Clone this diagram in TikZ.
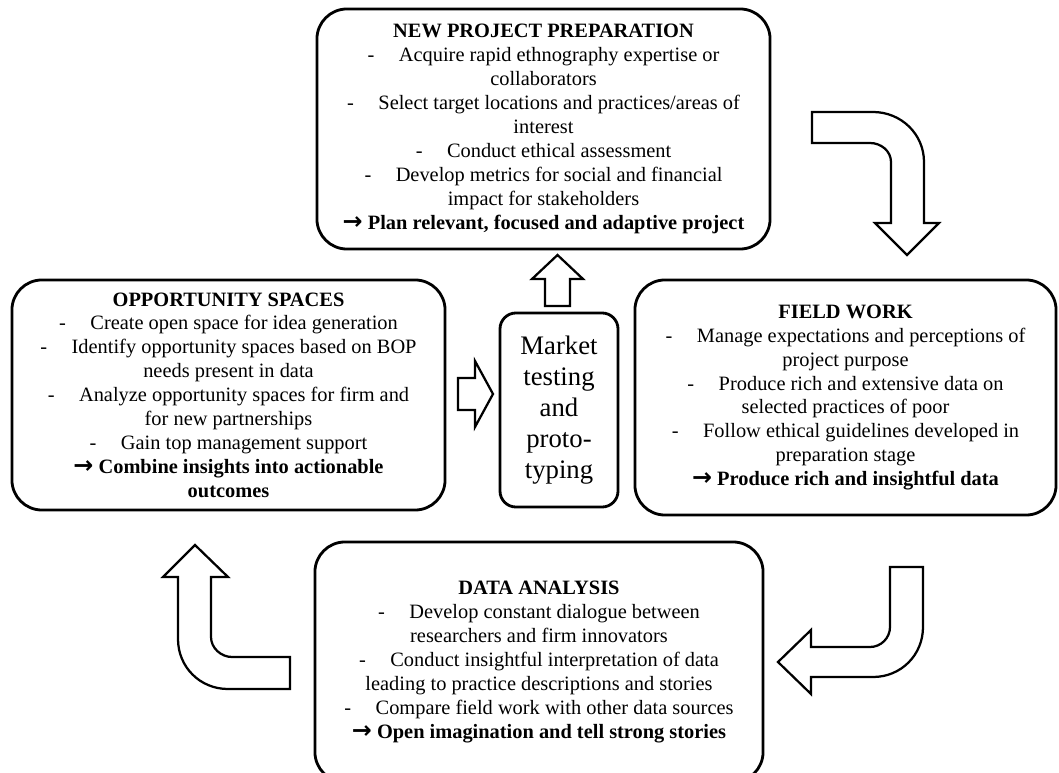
\documentclass[tikz,border=0pt]{standalone}
\usepackage{fontspec}
\setmainfont{Liberation Serif}
\newfontfamily\arrowfont{DejaVu Sans}
\tikzset{
  stage/.style={draw, line width=2pt, rounded corners=0.75cm, align=center, inner sep=0pt,
    font=\fontsize{14.5}{17}\selectfont},
  testbox/.style={draw, line width=2pt, rounded corners=0.4cm, align=center, inner sep=0pt,
    font=\fontsize{19}{22}\selectfont},
  blockarrow/.style={draw, line width=1.6pt, line join=miter, fill=white},
}
\newcommand{\itm}{-\hspace{1.2em}}
\newcommand{\res}{{\arrowfont\bfseries\fontsize{17}{17}\selectfont →}\ }
\begin{document}
\begin{tikzpicture}[x=0.025cm,y=-0.025cm]
\useasboundingbox (0,0) rectangle (1059,773);
\node[stage, minimum width=11.325cm, minimum height=6cm] (prep) at (543.5,129)
  {\textbf{NEW PROJECT PREPARATION}\\
   \itm Acquire rapid ethnography expertise or\\ collaborators\\
   \itm Select target locations and practices/areas of\\ interest\\
   \itm Conduct ethical assessment\\
   \itm Develop metrics for social and financial\\ impact for stakeholders\\
   \res\textbf{Plan relevant, focused and adaptive project}};
\node[stage, minimum width=10.825cm, minimum height=5.75cm] (opp) at (228.5,395)
  {\textbf{OPPORTUNITY SPACES}\\
   \itm Create open space for idea generation\\
   \itm Identify opportunity spaces based on BOP\\ needs present in data\\
   \itm Analyze opportunity spaces for firm and\\ for new partnerships\\
   \itm Gain top management support\\
   \res\textbf{Combine insights into actionable}\\ \textbf{outcomes}};
\node[stage, minimum width=10.525cm, minimum height=5.875cm] (field) at (845.5,397.5)
  {\textbf{FIELD WORK}\\
   \itm Manage expectations and perceptions of\\ project purpose\\
   \itm Produce rich and extensive data on\\ selected practices of poor\\
   \itm Follow ethical guidelines developed in\\ preparation stage\\
   \res\textbf{Produce rich and insightful data}};
\node[stage, minimum width=11.2cm, minimum height=6cm] (data) at (539,662)
  {\textbf{DATA ANALYSIS}\\
   \itm Develop constant dialogue between\\ researchers and firm innovators\\
   \itm Conduct insightful interpretation of data\\ leading to practice descriptions and stories\\
   \itm Compare field work with other data sources\\
   \res\textbf{Open imagination and tell strong stories}};
\node[testbox, minimum width=2.95cm, minimum height=4.85cm] (market) at (559,410)
  {Market\\ testing\\ and\\ proto-\\ typing};
\draw[blockarrow] (812,112) -- (873,112) .. controls (901,112) and (924,134) .. (924,162)
  -- (924,223) -- (939,223) -- (907,255) -- (875,223) -- (891,223) -- (891,162)
  .. controls (891,151) and (881,143) .. (870,143) -- (812,143) -- cycle;
\draw[blockarrow] (890,567) -- (923,567) -- (923,627) .. controls (923,655) and (901,677) .. (873,677)
  -- (811,677) -- (811,694) -- (778,662) -- (811,630) -- (811,647) -- (870,647)
  .. controls (881,647) and (890,638) .. (890,627) -- cycle;
\draw[blockarrow] (290,657) -- (232,657) .. controls (221,657) and (211,648) .. (211,637)
  -- (211,577) -- (228,577) -- (195,545) -- (163,577) -- (178,577) -- (178,639)
  .. controls (178,667) and (200,689) .. (228,689) -- (290,689) -- cycle;
\draw[blockarrow] (545,306) -- (545,279) -- (532,279) -- (557.5,255) -- (583,279) -- (570,279) -- (570,306) -- cycle;
\draw[blockarrow] (458,378) -- (475,378) -- (475,361) -- (493,394) -- (475,427) -- (475,410) -- (458,410) -- cycle;
\end{tikzpicture}
\end{document}
